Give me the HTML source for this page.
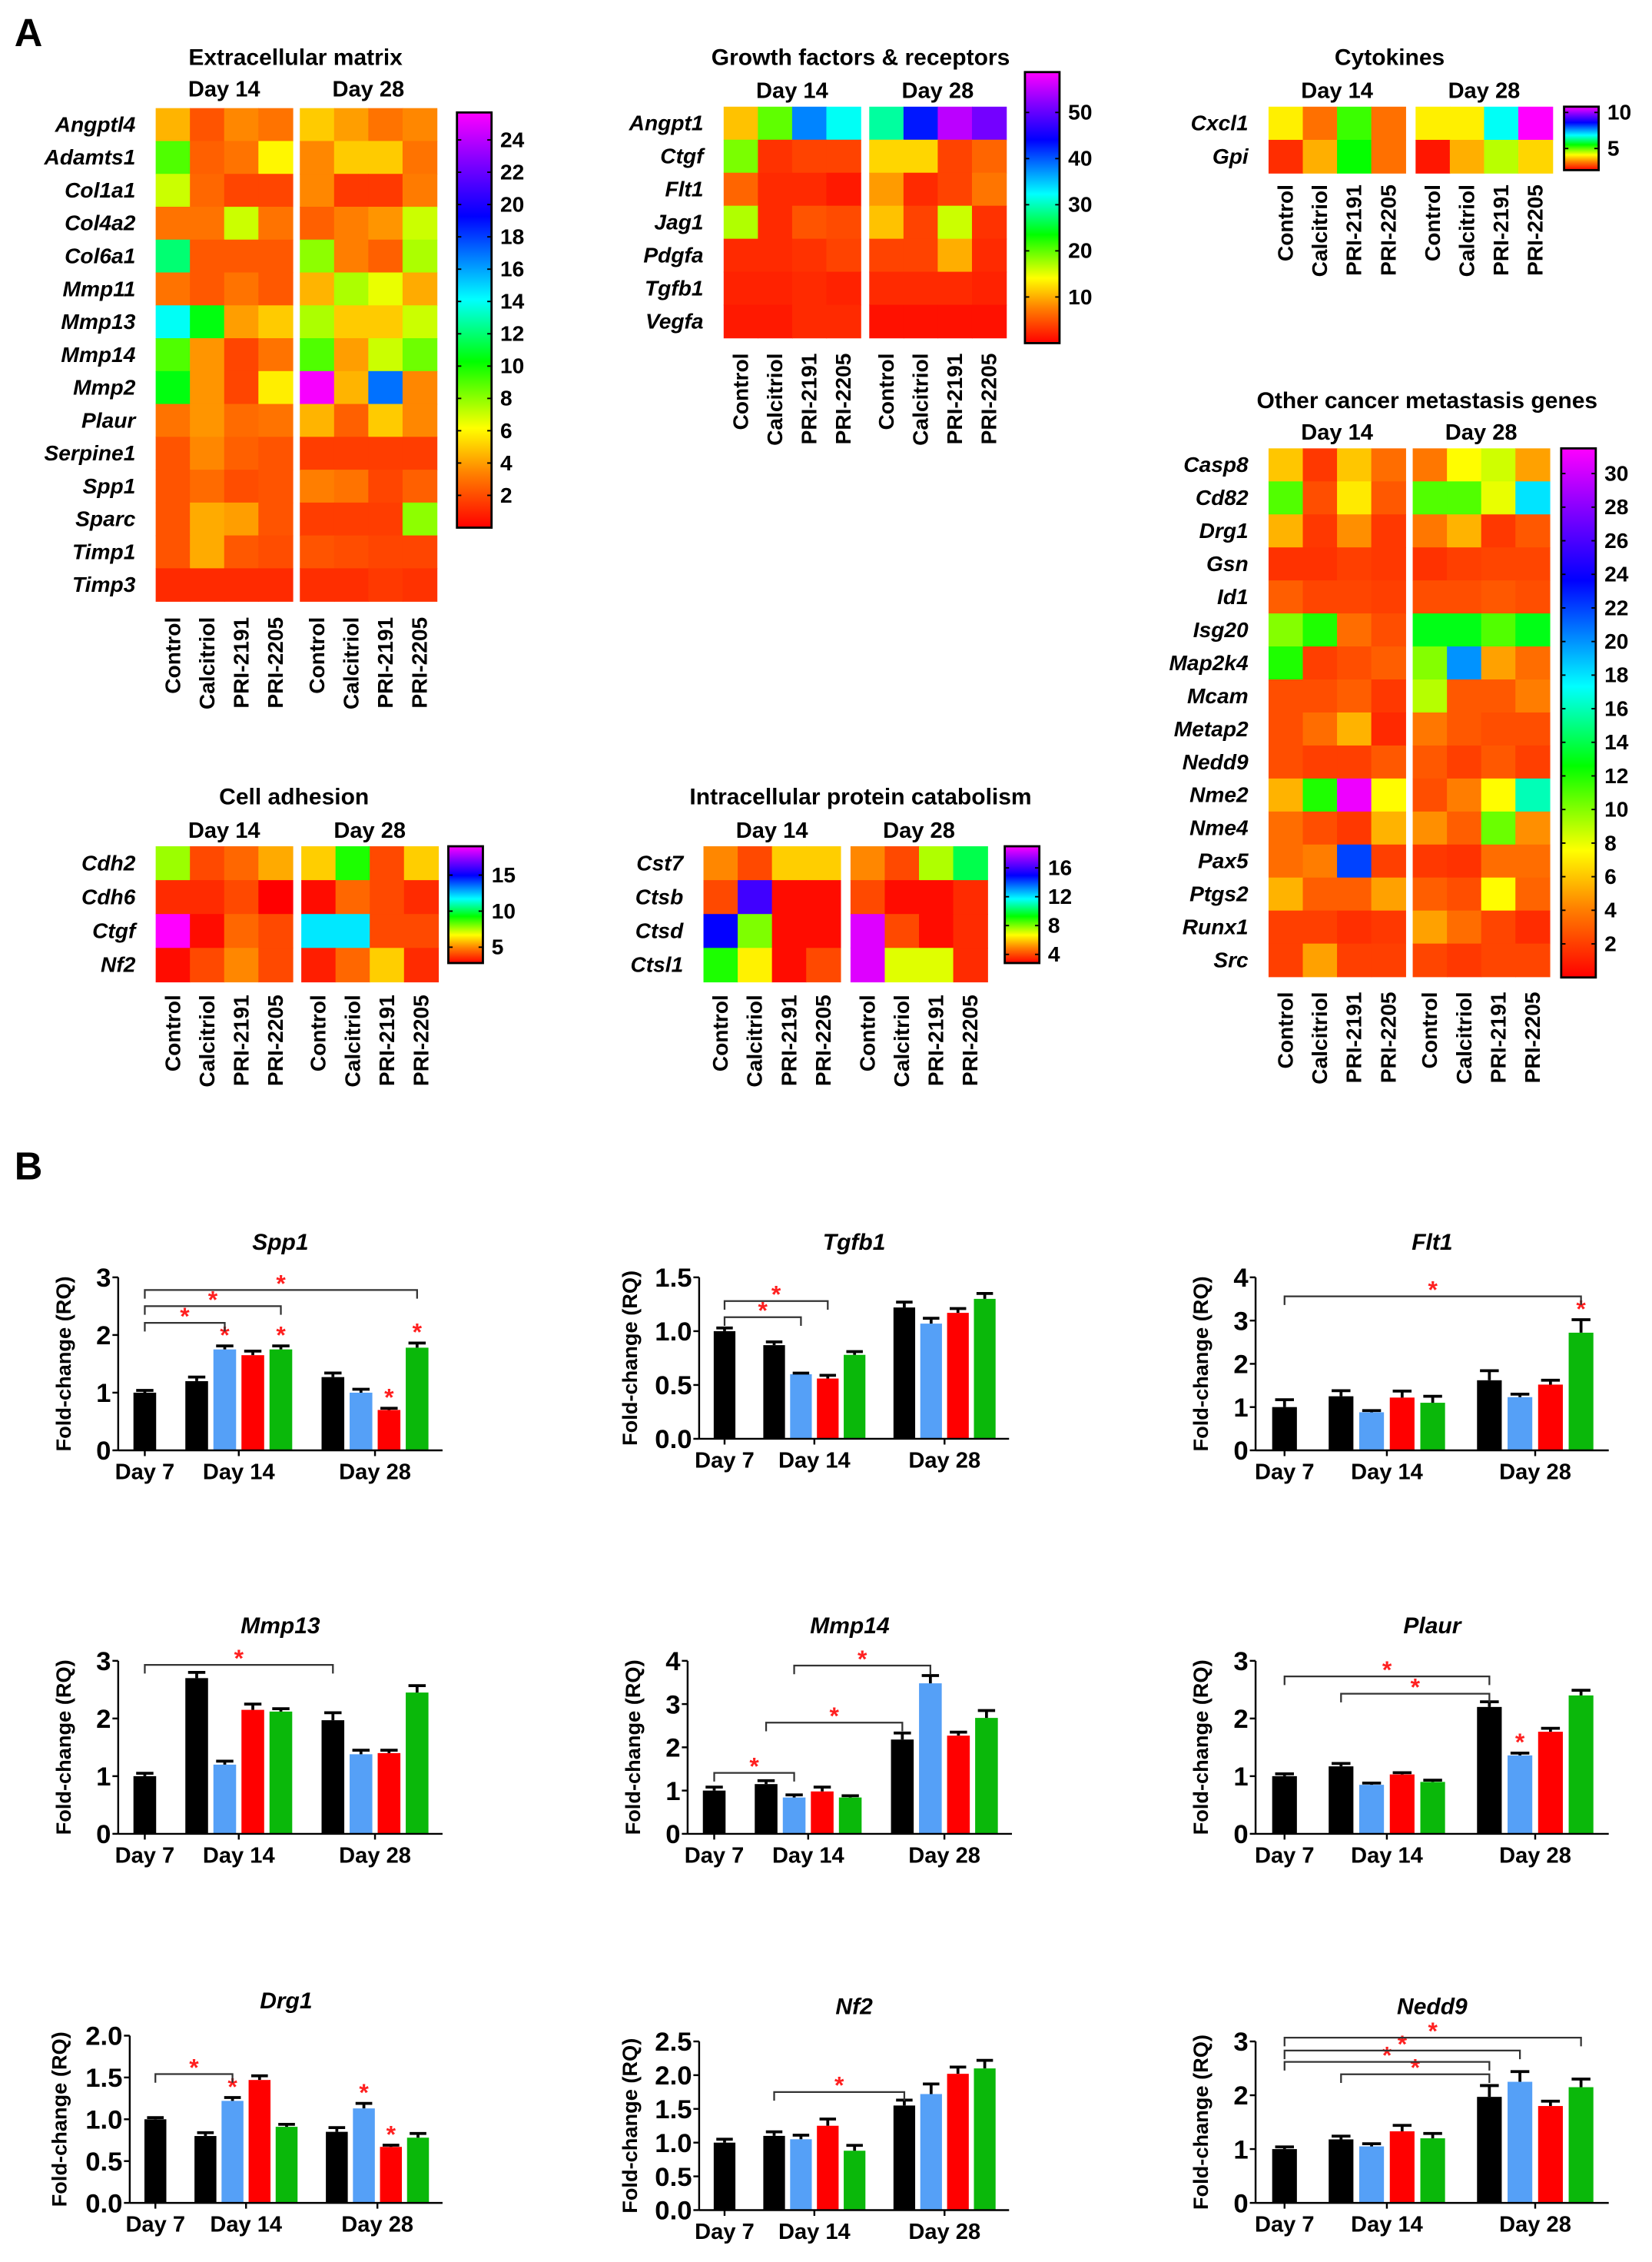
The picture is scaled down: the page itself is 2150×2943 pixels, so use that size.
<!DOCTYPE html>
<html><head><meta charset="utf-8"><title>Figure</title>
<style>
html,body{margin:0;padding:0;background:#fff;}
svg{display:block;}
text{font-family:"Liberation Sans",Arial,sans-serif;}
</style></head>
<body>
<svg id="fig" xmlns="http://www.w3.org/2000/svg" width="2150" height="2943" viewBox="0 0 1146 1569" preserveAspectRatio="none">
<rect x="0" y="0" width="1146" height="1569" fill="#fff"/>
<defs>
<linearGradient id="cbgrad" x1="0" y1="1" x2="0" y2="0">
<stop offset="0" stop-color="#ff0000"/><stop offset="0.13" stop-color="#ff8000"/><stop offset="0.24" stop-color="#ffff00"/><stop offset="0.4" stop-color="#00ff00"/><stop offset="0.55" stop-color="#00ffff"/><stop offset="0.75" stop-color="#0000ff"/><stop offset="0.88" stop-color="#8000ff"/><stop offset="1" stop-color="#ff00ff"/>
</linearGradient>
</defs>
<text x="10" y="32" font-size="27" font-weight="bold">A</text>
<text x="10" y="818" font-size="27" font-weight="bold">B</text>
<g id="root"></g>
</svg>
<script>
const treatments=['Control','Calcitriol','PRI-2191','PRI-2205'];

const ecmGenes=['Angptl4','Adamts1','Col1a1','Col4a2','Col6a1','Mmp11','Mmp13','Mmp14','Mmp2','Plaur','Serpine1','Spp1','Sparc','Timp1','Timp3'];
const ecmDay14=[[4.5,2.2,3.5,3],[9,2.5,3,6],[7,2.7,1.8,1.8],[3,3,7,3],[12,2.3,2.3,2.3],[3,2.3,3,2.3],[14,10.5,4,5],[9,3.8,1.8,3],[10.5,3.8,1.8,5.8],[3,3.8,2.8,3],[2.2,3.5,2.5,2.2],[2.2,2.8,2,2.2],[2.2,4.3,4,2.2],[2.2,4.3,2.3,2],[1.1,1.1,1.1,1.1]];
const ecmDay28=[[5,4,3,3.5],[3.5,5,5,3],[3.5,1.5,1.5,3.2],[2.5,3.3,3.8,7],[8,3.3,2.5,7.5],[4.5,7.5,6.5,4.3],[7.5,5,5,7],[9,4,7,8.5],[25.5,4.5,17,3.5],[4.5,2.5,5,3.5],[1.6,1.6,1.6,1.6],[3.3,3,1.8,2.5],[1.6,1.6,1.6,8],[2.2,2,1.8,1.8],[1.2,1.2,1.5,1.3]];
const ecmTicks=[2,4,6,8,10,12,14,16,18,20,22,24];

const gfGenes=['Angpt1','Ctgf','Flt1','Jag1','Pdgfa','Tgfb1','Vegfa'];
const gfDay14=[[11,20,38,32],[19,3,4,4],[6,2.5,2.5,1.5],[17,2.5,5,4.5],[2.5,2.5,3,4],[2,2,2.5,2],[1.5,1.5,2.5,2.5]];
const gfDay28=[[29,43,55,51],[12,12,4,6],[9,2.5,4,7],[11,4,16,3],[4,4,10,2.5],[2.5,2.5,2.5,2],[1,1,1,1]];
const gfTicks=[10,20,30,40,50];

const cytGenes=['Cxcl1','Gpi'];
const cytDay14=[[4,3,5.2,3],[2.4,3.5,5.5,3]];
const cytDay28=[[4,4,6.8,10.8],[2.2,3.5,4.5,3.8]];
const cytTicks=[5,10];

const metGenes=['Casp8','Cd82','Drg1','Gsn','Id1','Isg20','Map2k4','Mcam','Metap2','Nedd9','Nme2','Nme4','Pax5','Ptgs2','Runx1','Src'];
const metDay14=[[6,1.8,6,3.5],[11,2.5,7,2.8],[5.5,1.8,4.5,1.8],[1.6,1.6,2,1.8],[3,2.2,2.2,2],[10,12,3.5,2.5],[12,2,2.5,3],[2.5,2.5,3,1.8],[2.5,3.5,5.5,1.3],[2.5,2,2,2.8],[5.5,12,31,7.5],[3.5,2.5,1.8,5.5],[3.5,4,22,2],[5.5,3,3,5],[2,2,1.5,1.8],[2,5,2,2]];
const metDay28=[[3.8,7.5,8.5,5],[11,11,8,18],[3.8,5.5,1.8,2.8],[1.6,2,2.2,2.2],[2.5,2.5,2.8,2.5],[13,13,11,13],[10,20,5,3.5],[9,2.8,2.8,4],[3.8,2.8,2.5,2.5],[2.8,2,2.8,2],[2.5,4,7.5,16],[4.5,3,10.5,4.5],[1.8,1.6,3.5,3.5],[3,2.5,7.5,3.2],[5,3.5,2.2,1.4],[2.2,1.8,2.2,2.2]];
const metTicks=[2,4,6,8,10,12,14,16,18,20,22,24,26,28,30];

const adhGenes=['Cdh2','Cdh6','Ctgf','Nf2'];
const adhDay14=[[7.7,4,4.5,5.5],[3.5,3.5,4,2.8],[19,3,4.5,4],[3,4,5,4]];
const adhDay28=[[6,9,4,6],[3,4.5,4,3.5],[12,12,4,4],[3.3,4.5,6,3.5]];
const adhTicks=[5,10,15];

const icpGenes=['Cst7','Ctsb','Ctsd','Ctsl1'];
const icpDay14=[[5,4,6,6],[4,16,3,3],[15,8,3,3],[9,6.5,3,4]];
const icpDay28=[[5,4,7.5,10],[4,3,3,3.5],[18.5,4,3,3.5],[18.5,7,7,3.5]];
const icpTicks=[4,8,12,16];

// Bar chart data: index 0 = Day 7; 1-4 = Day 14 (Control, Calcitriol, PRI-2191, PRI-2205); 5-8 = Day 28
const spp1Values=[1.0,1.2,1.75,1.65,1.75,1.27,1.0,0.7,1.78];
const spp1Errors=[0.04,0.07,0.06,0.07,0.06,0.07,0.06,0.03,0.08];
const spp1Brackets=[[0,2,2.21],[0,4,2.5],[0,8,2.78]];
const spp1Stars=[2,4,7,8];
const spp1Ticks=['0','1','2','3'];

const tgfb1Values=[1.0,0.87,0.6,0.56,0.78,1.22,1.07,1.17,1.3];
const tgfb1Errors=[0.03,0.03,0.01,0.03,0.03,0.05,0.05,0.04,0.05];
const tgfb1Brackets=[[0,2,1.13],[0,3,1.28]];
const tgfb1Stars=[];
const tgfb1Ticks=['0.0','0.5','1.0','1.5'];

const flt1Values=[1.0,1.25,0.88,1.22,1.1,1.62,1.23,1.52,2.72];
const flt1Errors=[0.17,0.13,0.04,0.15,0.15,0.22,0.07,0.1,0.3];
const flt1Brackets=[[0,8,3.56]];
const flt1Stars=[8];
const flt1Ticks=['0','1','2','3','4'];

const mmp13Values=[1.0,2.7,1.2,2.15,2.12,1.97,1.38,1.4,2.45];
const mmp13Errors=[0.05,0.1,0.06,0.1,0.05,0.13,0.07,0.05,0.12];
const mmp13Brackets=[[0,5,2.93]];
const mmp13Stars=[];
const mmp13Ticks=['0','1','2','3'];

const mmp14Values=[1.0,1.15,0.84,0.98,0.84,2.18,3.48,2.27,2.68];
const mmp14Errors=[0.08,0.08,0.06,0.1,0.04,0.15,0.18,0.08,0.17];
const mmp14Brackets=[[0,2,1.41],[1,5,2.57],[2,6,3.89]];
const mmp14Stars=[];
const mmp14Ticks=['0','1','2','3','4'];

const plaurValues=[1.0,1.17,0.85,1.03,0.9,2.2,1.36,1.77,2.4];
const plaurErrors=[0.04,0.05,0.03,0.03,0.03,0.09,0.04,0.06,0.09];
const plaurBrackets=[[0,5,2.73],[1,5,2.43]];
const plaurStars=[6];
const plaurTicks=['0','1','2','3'];

const drg1Values=[1.0,0.8,1.22,1.47,0.91,0.85,1.13,0.67,0.78];
const drg1Errors=[0.02,0.04,0.04,0.05,0.03,0.05,0.06,0.02,0.05];
const drg1Brackets=[[0,2,1.54]];
const drg1Stars=[2,6,7];
const drg1Ticks=['0.0','0.5','1.0','1.5','2.0'];

const nf2Values=[1.0,1.1,1.05,1.25,0.88,1.55,1.72,2.02,2.1];
const nf2Errors=[0.05,0.06,0.06,0.1,0.08,0.08,0.15,0.1,0.12];
const nf2Brackets=[[1,5,1.75]];
const nf2Stars=[];
const nf2Ticks=['0.0','0.5','1.0','1.5','2.0','2.5'];

const nedd9Values=[1.0,1.18,1.05,1.33,1.2,1.97,2.25,1.8,2.15];
const nedd9Errors=[0.04,0.06,0.05,0.11,0.09,0.21,0.19,0.09,0.15];
const nedd9Brackets=[[1,5,2.39],[0,5,2.62],[0,6,2.83],[0,8,3.07]];
const nedd9Stars=[];
const nedd9Ticks=['0','1','2','3'];

const NS='http://www.w3.org/2000/svg';
const root=document.getElementById('root');
function mk(tag,parent,attrs){const e=document.createElementNS(NS,tag);for(const k in attrs)e.setAttribute(k,attrs[k]);parent.appendChild(e);return e;}
function txt(parent,x,y,s,attrs){const t=mk('text',parent,Object.assign({x:x,y:y},attrs||{}));t.textContent=s;return t;}

const stops=[[0,[255,0,0]],[0.13,[255,128,0]],[0.24,[255,255,0]],[0.4,[0,255,0]],[0.55,[0,255,255]],[0.75,[0,0,255]],[0.88,[128,0,255]],[1,[255,0,255]]];
function cmap(t){t=Math.max(0,Math.min(1,t));for(let i=1;i<stops.length;i++){if(t<=stops[i][0]){const a=stops[i-1],b=stops[i];const f=(t-a[0])/(b[0]-a[0]);const c=a[1].map((v,j)=>Math.round(v+(b[1][j]-v)*f));return 'rgb('+c.join(',')+')';}}return 'rgb(255,0,255)';}

function heatmap(cfg,genes,d14,d28,ticks){
  const g=mk('g',root,{});
  
  
  const t=txt(g,cfg.titleX,cfg.titleY,cfg.title,{'font-size':16,'font-weight':'bold','text-anchor':'middle'});
  
  
  const cw=cfg.blockW/4;
  const blocks=[[cfg.x14,d14,'day-14'],[cfg.x28,d28,'day-28']];
  blocks.forEach(([bx,data,dn])=>{
    const dl=txt(g,bx+cfg.blockW/2,cfg.y-cfg.dayGap,dn==='day-14'?'Day 14':'Day 28',{'font-size':15.5,'font-weight':'bold','text-anchor':'middle'});
    
    
    data.forEach((row,r)=>{row.forEach((v,c)=>{
      const rc=mk('rect',g,{x:bx+c*cw,y:cfg.y+r*cfg.rowH,width:cw+0.4,height:cfg.rowH+0.4,fill:cmap((v-cfg.vmin)/(cfg.vmax-cfg.vmin))});
      
      
    });});
    treatments.forEach((tr,c)=>{
      const cx=bx+c*cw+cw/2+5;
      const tl=txt(g,cx,cfg.labY,tr,{'font-size':15,'font-weight':'bold','text-anchor':'end',transform:'rotate(-90 '+cx+' '+cfg.labY+')'});
      
      
    });
  });
  genes.forEach((gn,r)=>{
    const gl=txt(g,cfg.geneX,cfg.y+r*cfg.rowH+cfg.rowH/2+5,gn,{'font-size':15,'font-weight':'bold','font-style':'italic','text-anchor':'end'});
    
    
  });
  const cb=mk('rect',g,{x:cfg.cbX,y:cfg.cbY0,width:24,height:cfg.cbY1-cfg.cbY0,fill:'url(#cbgrad)',stroke:'#000','stroke-width':1.5});
  
  
  const sc=v=>cfg.cbY1-(v-cfg.vmin)/(cfg.vmax-cfg.vmin)*(cfg.cbY1-cfg.cbY0);
  ticks.forEach(v=>{
    const y=sc(v);
    mk('line',g,{x1:cfg.cbX,x2:cfg.cbX+3,y1:y,y2:y,stroke:'#000','stroke-width':1});
    mk('line',g,{x1:cfg.cbX+21,x2:cfg.cbX+24,y1:y,y2:y,stroke:'#000','stroke-width':1});
    const tl=txt(g,cfg.cbX+30,y+5,String(v),{'font-size':15,'font-weight':'bold'});
    
    
  });
}

heatmap({name:'extracellular-matrix-heatmap',title:'Extracellular matrix',titleX:205,titleY:45,x14:108,x28:208,blockW:95,y:75,rowH:22.8,dayGap:8,geneX:94,labY:428,cbX:317,cbY0:78,cbY1:366,vmin:0,vmax:25.7},ecmGenes,ecmDay14,ecmDay28,ecmTicks);
heatmap({name:'growth-factors-heatmap',title:'Growth factors & receptors',titleX:597,titleY:45,x14:502,x28:603,blockW:95,y:74,rowH:22.9,dayGap:6,geneX:488,labY:245,cbX:711,cbY0:50,cbY1:238,vmin:0,vmax:58.75},gfGenes,gfDay14,gfDay28,gfTicks);
heatmap({name:'cytokines-heatmap',title:'Cytokines',titleX:964,titleY:45,x14:880,x28:982,blockW:95,y:74,rowH:23,dayGap:6,geneX:866,labY:128,cbX:1085,cbY0:74,cbY1:118,vmin:2,vmax:10.8},cytGenes,cytDay14,cytDay28,cytTicks);
heatmap({name:'metastasis-genes-heatmap',title:'Other cancer metastasis genes',titleX:990,titleY:283,x14:880,x28:980,blockW:95,y:311,rowH:22.9,dayGap:6,geneX:866,labY:688,cbX:1083,cbY0:311,cbY1:678,vmin:0,vmax:31.5},metGenes,metDay14,metDay28,metTicks);
heatmap({name:'cell-adhesion-heatmap',title:'Cell adhesion',titleX:204,titleY:558,x14:108,x28:209,blockW:95,y:587,rowH:23.5,dayGap:6,geneX:94,labY:690,cbX:311,cbY0:587,cbY1:668,vmin:2.8,vmax:19},adhGenes,adhDay14,adhDay28,adhTicks);
heatmap({name:'protein-catabolism-heatmap',title:'Intracellular protein catabolism',titleX:597,titleY:558,x14:488,x28:590,blockW:95,y:587,rowH:23.5,dayGap:6,geneX:474,labY:690,cbX:697,cbY0:587,cbY1:668,vmin:2.8,vmax:19},icpGenes,icpDay14,icpDay28,icpTicks);

const barColors=['#000000','#000000','#55a0f7','#ff0000','#0ab80a','#000000','#55a0f7','#ff0000','#0ab80a'];
function barChart(cfg,values,errors,brackets,stars,tickLabels){
  const g=mk('g',root,{});
  
  
  const W=cfg.end-cfg.ax;
  const ymax=parseFloat(tickLabels[tickLabels.length-1]);
  const ys=v=>cfg.y0-v/ymax*(cfg.y0-cfg.yTop);
  const bw=0.07*W, pitch=0.0865*W;
  const bx=i=>{if(i===0)return cfg.ax+0.047*W;if(i<=4)return cfg.ax+0.207*W+(i-1)*pitch;return cfg.ax+0.627*W+(i-5)*pitch;};
  const bc=i=>bx(i)+bw/2;
  const tt=txt(g,(cfg.ax+cfg.end)/2,cfg.yTop-19,cfg.title,{'font-size':16,'font-weight':'bold','font-style':'italic','text-anchor':'middle'});
  
  
  values.forEach((v,i)=>{
    const r=mk('rect',g,{x:bx(i),y:ys(v),width:bw,height:cfg.y0-ys(v),fill:barColors[i]});
    
    
    const ye=ys(v+errors[i]);
    const eb=mk('path',g,{d:'M'+bc(i)+' '+ys(v)+' V'+ye+' M'+(bc(i)-bw*0.38)+' '+ye+' H'+(bc(i)+bw*0.38),stroke:'#000','stroke-width':2,fill:'none'});
    
    
  });
  stars.forEach(i=>{
    const s=txt(g,bc(i),ys(values[i]+errors[i])-2,'*',{'font-size':17,'font-weight':'bold',fill:'#ff2020','text-anchor':'middle'});
    
    
  });
  brackets.forEach(([a,b,v])=>{
    const y=ys(v);
    const p=mk('path',g,{d:'M'+bc(a)+' '+(y+6)+' V'+y+' H'+bc(b)+' V'+(y+6),stroke:'#333','stroke-width':1.2,fill:'none'});
    
    
    const s=txt(g,(bc(a)+bc(b))/2,y+1,'*',{'font-size':17,'font-weight':'bold',fill:'#ff2020','text-anchor':'middle'});
    
    
  });
  const ya=mk('line',g,{x1:cfg.ax,x2:cfg.ax,y1:cfg.y0,y2:cfg.yTop,stroke:'#000','stroke-width':1.3});
  
  
  const xa=mk('line',g,{x1:cfg.ax,x2:cfg.end,y1:cfg.y0,y2:cfg.y0,stroke:'#000','stroke-width':1.3});
  
  
  tickLabels.forEach(lbl=>{
    const y=ys(parseFloat(lbl));
    mk('line',g,{x1:cfg.ax-4,x2:cfg.ax,y1:y,y2:y,stroke:'#000','stroke-width':1.3});
    const tl=txt(g,cfg.ax-5,y+6.5,lbl,{'font-size':18.5,'font-weight':'bold','text-anchor':'end'});
    
    
  });
  const centers=[bc(0),(bx(1)+bx(4)+bw)/2,(bx(5)+bx(8)+bw)/2];
  ['Day 7','Day 14','Day 28'].forEach((d,k)=>{
    mk('line',g,{x1:centers[k],x2:centers[k],y1:cfg.y0,y2:cfg.y0+4,stroke:'#000','stroke-width':1.3});
    const xl=txt(g,centers[k],cfg.y0+20,d,{'font-size':15.5,'font-weight':'bold','text-anchor':'middle'});
    
    
  });
  const axx=cfg.ax-cfg.titleOff, axy=(cfg.y0+cfg.yTop)/2;
  const at=txt(g,axx,axy,'Fold-change (RQ)',{'font-size':14.5,'font-weight':'bold','text-anchor':'middle',transform:'rotate(-90 '+axx+' '+axy+')'});
  
  
}

barChart({name:'spp1-chart',title:'Spp1',ax:82,end:307,y0:1006,yTop:886,titleOff:33},spp1Values,spp1Errors,spp1Brackets,spp1Stars,spp1Ticks);
barChart({name:'tgfb1-chart',title:'Tgfb1',ax:485,end:700,y0:998,yTop:886,titleOff:43},tgfb1Values,tgfb1Errors,tgfb1Brackets,tgfb1Stars,tgfb1Ticks);
barChart({name:'flt1-chart',title:'Flt1',ax:871,end:1116,y0:1006,yTop:886,titleOff:33},flt1Values,flt1Errors,flt1Brackets,flt1Stars,flt1Ticks);
barChart({name:'mmp13-chart',title:'Mmp13',ax:82,end:307,y0:1272,yTop:1152,titleOff:33},mmp13Values,mmp13Errors,mmp13Brackets,mmp13Stars,mmp13Ticks);
barChart({name:'mmp14-chart',title:'Mmp14',ax:477,end:702,y0:1272,yTop:1152,titleOff:33},mmp14Values,mmp14Errors,mmp14Brackets,mmp14Stars,mmp14Ticks);
barChart({name:'plaur-chart',title:'Plaur',ax:871,end:1116,y0:1272,yTop:1152,titleOff:33},plaurValues,plaurErrors,plaurBrackets,plaurStars,plaurTicks);
barChart({name:'drg1-chart',title:'Drg1',ax:90,end:307,y0:1528,yTop:1412,titleOff:44},drg1Values,drg1Errors,drg1Brackets,drg1Stars,drg1Ticks);
barChart({name:'nf2-chart',title:'Nf2',ax:485,end:700,y0:1533,yTop:1416,titleOff:43},nf2Values,nf2Errors,nf2Brackets,nf2Stars,nf2Ticks);
barChart({name:'nedd9-chart',title:'Nedd9',ax:871,end:1116,y0:1528,yTop:1416,titleOff:33},nedd9Values,nedd9Errors,nedd9Brackets,nedd9Stars,nedd9Ticks);
</script>
</body></html>
